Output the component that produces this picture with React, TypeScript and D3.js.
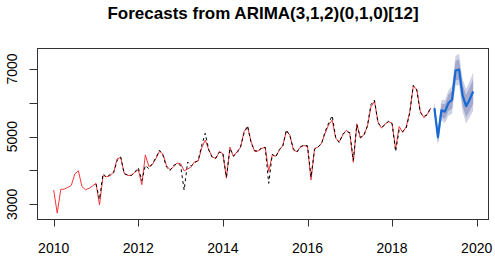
import React from "react";
import * as d3 from "d3";

const W = 495;
const H = 258;

const title = "Forecasts from ARIMA(3,1,2)(0,1,0)[12]";
const startYear = 2010;
const xTicks = [2010, 2012, 2014, 2016, 2018, 2020];
const yTicks = [3000, 4000, 5000, 6000, 7000];
const yLabels = [3000, 5000, 7000];

// monthly observed series, Jan 2010 - Dec 2018
const observed = [
  3420, 2740, 3440, 3450, 3500, 3560, 3900, 3990, 3530, 3430, 3470, 3540,
  3620, 2980, 3850, 3810, 3850, 3950, 4340, 4390, 3920, 3850, 3860, 3940,
  4030, 3580, 4460, 4120, 4180, 4350, 4570, 4480, 4140, 4020, 4110, 4220,
  4200, 3990, 4040, 4110, 4260, 4280, 4670, 4900, 4610, 4400, 4350, 4560,
  4490, 3770, 4690, 4410, 4550, 4680, 5150, 5290, 4850, 4560, 4580, 4650,
  4690, 3970, 4460, 4420, 4600, 4740, 5160, 5050, 4600, 4560, 4690, 4740,
  4700, 3720, 4650, 4690, 4810, 5100, 5350, 5490, 4950, 4850, 5050, 5190,
  5100, 4240, 5380, 4950, 5060, 5300, 5880, 6050, 5440, 5250, 5370, 5440,
  5400, 4640, 5300, 5130, 5290, 5720, 6490, 6400, 5750, 5560, 5660, 5850,
];

// fitted values, Jan 2011 - Dec 2018
const fittedStart = 12;
const fitted = [
  3600, 3150, 3900, 3800, 3880, 3930, 4300, 4400, 3900, 3870, 3850, 3950,
  4080, 3700, 4150, 4050, 4200, 4380, 4600, 4450, 4100, 4000, 4150, 4200,
  4150, 3420, 4250, 4130, 4230, 4300, 4750, 5100, 4600, 4380, 4370, 4540,
  4510, 3800, 4650, 4430, 4520, 4700, 5100, 5320, 4820, 4590, 4560, 4680,
  4680, 3620, 4480, 4400, 4620, 4720, 5200, 5020, 4640, 4540, 4700, 4750,
  4730, 3800, 4620, 4700, 4790, 5150, 5400, 5620, 4980, 4820, 5080, 5150,
  5120, 4300, 5350, 4980, 5030, 5320, 5950, 6080, 5400, 5280, 5350, 5460,
  5380, 4560, 5200, 5150, 5250, 5700, 6520, 6380, 5700, 5600, 5650, 5880,
];

// forecast Jan 2019 - Dec 2019
const fcStart = 108;
const forecast = [5845, 4985, 5780, 5740, 6000, 6090, 6955, 6980, 6220, 5900, 6100, 6335];
const lo80 = [5715, 4820, 5585, 5520, 5755, 5825, 6670, 6680, 5905, 5570, 5755, 5965];
const hi80 = [5975, 5150, 5975, 5960, 6245, 6355, 7240, 7280, 6535, 6230, 6445, 6705];
const lo95 = [5645, 4735, 5480, 5400, 5625, 5680, 6515, 6520, 5735, 5390, 5570, 5765];
const hi95 = [6045, 5235, 6080, 6080, 6375, 6500, 7395, 7440, 6705, 6410, 6630, 6905];

const box = { left: 37.5, right: 488.5, top: 48.5, bottom: 219.5 };

const x = d3.scaleLinear().domain([2010, 2020]).range([53.7, 476.7]);
const y = d3.scaleLinear().domain([3000, 7000]).range([204.3, 69]);

const t = (i: number) => startYear + i / 12;

export default function App() {
  const line = d3
    .line<[number, number]>()
    .x((d) => x(d[0]))
    .y((d) => y(d[1]));

  const obsPts: [number, number][] = observed.map((v, i) => [t(i), v]);
  const fitPts: [number, number][] = fitted.map((v, i) => [t(i + fittedStart), v]);
  const fcPts: [number, number][] = forecast.map((v, i) => [t(i + fcStart), v]);

  const area = (lo: number[], hi: number[]) =>
    d3
      .area<number>()
      .x((_, i) => x(t(i + fcStart)))
      .y0((_, i) => y(lo[i]))
      .y1((_, i) => y(hi[i]))(lo.map((_, i) => i)) || "";

  const font = "'Liberation Sans', Arial, Helvetica, sans-serif";

  return (
    <svg
      width={W}
      height={H}
      style={{ position: "absolute", left: 0, top: 0, display: "block" }}
      fontFamily={font}
    >
      <rect x={0} y={0} width={W} height={H} fill="white" />
      <text x={(box.left + box.right) / 2} y={19} textAnchor="middle" fontWeight="bold" fontSize={17} fill="#000">
        {title}
      </text>

      <path d={area(lo95, hi95)} fill="#cfd2e5" />
      <path d={area(lo80, hi80)} fill="#a3a8cc" />

      <path d={line(obsPts) || ""} fill="none" stroke="#f2373a" strokeWidth={1} strokeLinejoin="round" />
      <path d={line(fitPts) || ""} fill="none" stroke="#000" strokeWidth={1} strokeDasharray="3,3" />
      <path d={line(fcPts) || ""} fill="none" stroke="#1769d3" strokeWidth={2.2} strokeLinejoin="round" />

      <rect
        x={box.left}
        y={box.top}
        width={box.right - box.left}
        height={box.bottom - box.top}
        fill="none"
        stroke="#333"
        strokeWidth={1}
      />

      {/* x axis */}
      <line x1={x(2010)} x2={x(2020)} y1={box.bottom} y2={box.bottom} stroke="#333" />
      {xTicks.map((v) => (
        <g key={v}>
          <line x1={Math.round(x(v)) + 0.5} x2={Math.round(x(v)) + 0.5} y1={box.bottom} y2={box.bottom + 7} stroke="#333" />
          <text x={x(v)} y={253} textAnchor="middle" fontSize={14} fill="#000">
            {v}
          </text>
        </g>
      ))}

      {/* y axis */}
      <line x1={box.left} x2={box.left} y1={y(3000)} y2={y(7000)} stroke="#333" />
      {yTicks.map((v) => (
        <line key={v} x1={box.left - 8} x2={box.left} y1={Math.round(y(v)) + 0.5} y2={Math.round(y(v)) + 0.5} stroke="#333" />
      ))}
      {yLabels.map((v) => (
        <text key={v} transform={`translate(17, ${y(v)}) rotate(-90)`} textAnchor="middle" fontSize={14} fill="#000">
          {v}
        </text>
      ))}
    </svg>
  );
}
